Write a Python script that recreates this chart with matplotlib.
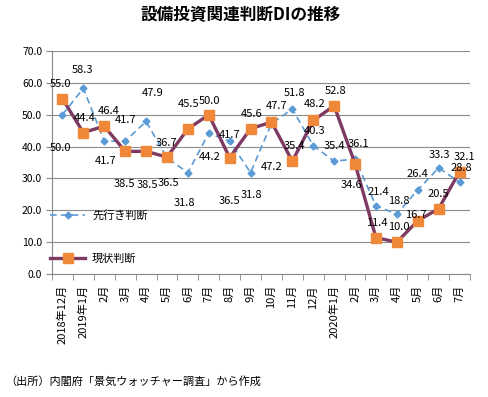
import matplotlib.pyplot as plt
import numpy as np

plt.rcParams['font.family'] = ['Noto Sans CJK JP', 'DejaVu Sans']

months = ['2018年12月', '2019年1月', '2月', '3月', '4月', '5月', '6月', '7月', '8月',
          '9月', '10月', '11月', '12月', '2020年1月', '2月', '3月', '4月', '5月', '6月', '7月']
outlook = [50.0, 58.3, 41.7, 41.7, 47.9, 36.5, 31.8, 44.2, 41.7, 31.8,
           47.2, 51.8, 40.3, 35.4, 36.1, 21.4, 18.8, 26.4, 33.3, 28.8]
current = [55.0, 44.4, 46.4, 38.5, 38.5, 36.7, 45.5, 50.0, 36.5, 45.6,
           47.7, 35.4, 48.2, 52.8, 34.6, 11.4, 10.0, 16.7, 20.5, 32.1]

# label offsets in pixels (dx, dy)
off_outlook = [(-2, -33), (-1, 18), (1, -20), (0, 21), (7, 28), (2, -25), (-3, -30), (1, -24),
               (0, 6), (1, -22), (0, -43), (2, 16), (1, 15), (0, 15), (3, 15), (2, 14),
               (2, 13), (0, 16), (1, 13), (2, 14)]
off_current = [(-2, 15), (1, 15), (5, 15), (-1, -33), (1, -34), (0, 14), (1, 25), (1, 14),
               (0, -43), (1, 15), (5, 16), (2, 15), (1, 16), (1, 15), (-4, -21), (1, 15),
               (2, 15), (-2, 6), (0, 15), (5, 15)]

x = np.arange(len(months))

fig = plt.figure(figsize=(4.89, 3.97), dpi=100)
ax = fig.add_axes([52 / 489, 1 - 274 / 397, 418 / 489, 223 / 397])

blue = '#5B9BD5'
purple = '#7E3A62'
orange = '#F0883A'

ax.plot(x, outlook, color=blue, lw=1.2, ls=(0, (4, 2.5)), marker='D', ms=3.5,
        mfc=blue, mec=blue, label='先行き判断', zorder=3)
ax.plot(x, current, color=purple, lw=2.4, marker='s', ms=7,
        mfc=orange, mec=orange, label='現状判断', zorder=4)

for i in range(len(x)):
    ax.annotate(f'{outlook[i]:.1f}', (x[i], outlook[i]), xytext=off_outlook[i],
                textcoords='offset pixels', ha='center', va='center', fontsize=8, zorder=5)
    ax.annotate(f'{current[i]:.1f}', (x[i], current[i]), xytext=off_current[i],
                textcoords='offset pixels', ha='center', va='center', fontsize=8, zorder=5)

ax.set_xlim(-0.5, len(months) - 0.5)
ax.set_ylim(0, 70)
ax.set_yticks(np.arange(0, 71, 10))
ax.set_yticklabels([f'{v:.1f}' for v in np.arange(0, 71, 10)], fontsize=7.5)
ax.yaxis.grid(True, color='#8c8c8c', lw=0.8)
ax.set_axisbelow(True)

ax.set_xticks(x)
ax.set_xticklabels(months, rotation=90, fontsize=8, va='top')
ax.set_xticks(np.arange(-0.5, len(months), 1), minor=True)
ax.tick_params(axis='x', which='major', length=0, pad=8)
ax.tick_params(axis='x', which='minor', length=4, color='#888888')
ax.tick_params(axis='y', length=4, color='#888888', pad=3)

for s in ['top', 'right']:
    ax.spines[s].set_visible(False)
for s in ['left', 'bottom']:
    ax.spines[s].set_color('#888888')
    ax.spines[s].set_linewidth(0.8)

ax.legend(loc='center left', bbox_to_anchor=(-0.005, 0.166), frameon=False,
          fontsize=8, handlelength=3.2, labelspacing=2.9, handletextpad=0.6,
          borderpad=0, borderaxespad=0)

fig.text(241 / 489, 1 - 15 / 397, '設備投資関連判断DIの推移', ha='center', va='center',
         fontsize=12, fontweight='bold')
fig.text(5 / 489, 1 - 381 / 397, '（出所）内閣府「景気ウォッチャー調査」から作成',
         ha='left', va='center', fontsize=8)

fig.savefig('out.png', dpi=100)
